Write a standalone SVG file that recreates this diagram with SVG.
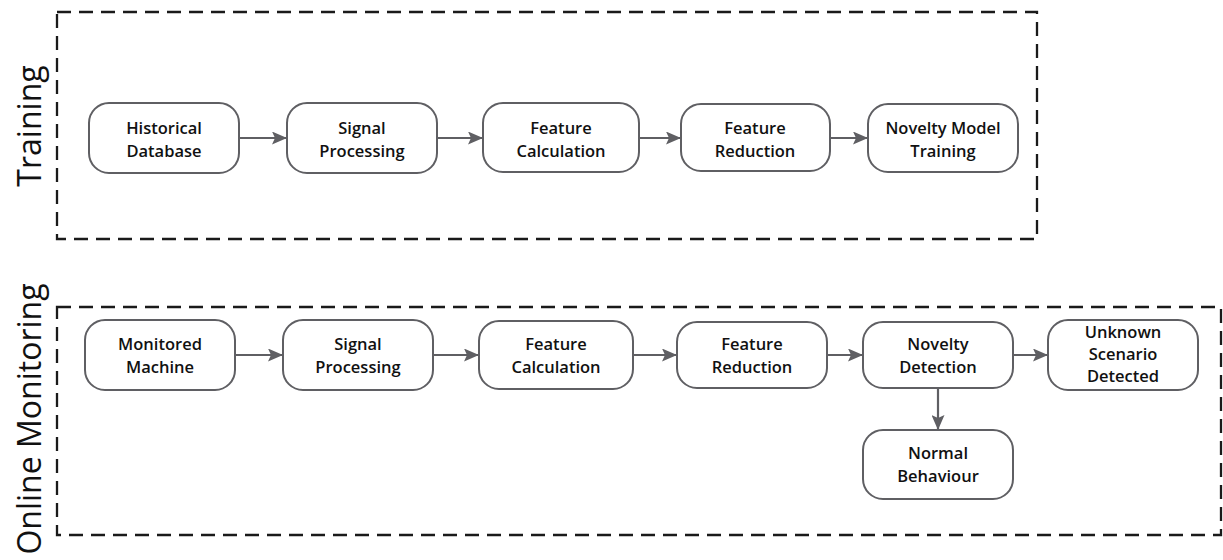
<svg xmlns="http://www.w3.org/2000/svg" width="1223" height="560" viewBox="0 0 1223 560">
  <style>
    .frame { fill: none; stroke: #1a1a1a; stroke-width: 2.3; stroke-dasharray: 14 8; }
    .box { fill: #ffffff; stroke: #5f5f63; stroke-width: 2; }
    .lbl { font-family: "Open Sans", "Liberation Sans", sans-serif; font-weight: 600; font-size: 16.5px; fill: #111; text-anchor: middle; }
    .side { font-family: "Open Sans", "Liberation Sans", sans-serif; font-size: 32px; fill: #111; text-anchor: middle; }
    .edge { stroke: #5f5f63; stroke-width: 2.2; fill: none; marker-end: url(#head); }
  </style>
  <defs>
    <marker id="head" viewBox="0 0 15 13" refX="15" refY="6.5" markerWidth="15" markerHeight="13" markerUnits="userSpaceOnUse" orient="auto">
      <path d="M0,0 L15,6.5 L0,13 L3,6.5 Z" fill="#5f5f63"/>
    </marker>
  </defs>
  <rect width="1223" height="560" fill="#ffffff"/>

  <!-- stage frames -->
  <g id="frames">
    <rect class="frame" x="57" y="12" width="980" height="227"/>
    <rect class="frame" x="57" y="307" width="1164" height="228"/>
    <text class="side" transform="translate(41,126) rotate(-90)">Training</text>
    <text class="side" transform="translate(41,419) rotate(-90)">Online Monitoring</text>
  </g>

  <!-- connectors -->
  <g id="connectors">
    <line class="edge" x1="239" y1="138" x2="287" y2="138"/>
    <line class="edge" x1="437" y1="138" x2="483" y2="138"/>
    <line class="edge" x1="639" y1="138" x2="681" y2="138"/>
    <line class="edge" x1="830" y1="138" x2="868" y2="138"/>

    <line class="edge" x1="235" y1="355" x2="283" y2="355"/>
    <line class="edge" x1="433" y1="355" x2="479" y2="355"/>
    <line class="edge" x1="633" y1="355" x2="677" y2="355"/>
    <line class="edge" x1="827" y1="355" x2="863" y2="355"/>
    <line class="edge" x1="1013" y1="355" x2="1048" y2="355"/>
    <line class="edge" x1="938" y1="388" x2="938" y2="430"/>
  </g>

  <!-- training pipeline -->
  <g id="historical-database">
    <rect class="box" x="89" y="103" width="150" height="70" rx="20"/>
    <text class="lbl" x="164" y="134">Historical</text>
    <text class="lbl" x="164" y="157">Database</text>
  </g>
  <g id="train-signal-processing">
    <rect class="box" x="287" y="103" width="150" height="70" rx="20"/>
    <text class="lbl" x="362" y="134">Signal</text>
    <text class="lbl" x="362" y="157">Processing</text>
  </g>
  <g id="train-feature-calculation">
    <rect class="box" x="483" y="103" width="156" height="69" rx="20"/>
    <text class="lbl" x="561" y="134">Feature</text>
    <text class="lbl" x="561" y="157">Calculation</text>
  </g>
  <g id="train-feature-reduction">
    <rect class="box" x="681" y="104" width="149" height="67" rx="20"/>
    <text class="lbl" x="755" y="134">Feature</text>
    <text class="lbl" x="755" y="157">Reduction</text>
  </g>
  <g id="novelty-model-training">
    <rect class="box" x="868" y="104" width="150" height="68" rx="20"/>
    <text class="lbl" x="943" y="134">Novelty Model</text>
    <text class="lbl" x="943" y="157">Training</text>
  </g>

  <!-- online pipeline -->
  <g id="monitored-machine">
    <rect class="box" x="85" y="320" width="150" height="70" rx="20"/>
    <text class="lbl" x="160" y="350">Monitored</text>
    <text class="lbl" x="160" y="373">Machine</text>
  </g>
  <g id="online-signal-processing">
    <rect class="box" x="283" y="320" width="150" height="70" rx="20"/>
    <text class="lbl" x="358" y="350">Signal</text>
    <text class="lbl" x="358" y="373">Processing</text>
  </g>
  <g id="online-feature-calculation">
    <rect class="box" x="479" y="321" width="154" height="68" rx="20"/>
    <text class="lbl" x="556" y="350">Feature</text>
    <text class="lbl" x="556" y="373">Calculation</text>
  </g>
  <g id="online-feature-reduction">
    <rect class="box" x="677" y="322" width="150" height="66" rx="20"/>
    <text class="lbl" x="752" y="350">Feature</text>
    <text class="lbl" x="752" y="373">Reduction</text>
  </g>
  <g id="novelty-detection">
    <rect class="box" x="863" y="322" width="150" height="66" rx="20"/>
    <text class="lbl" x="938" y="350">Novelty</text>
    <text class="lbl" x="938" y="373">Detection</text>
  </g>
  <g id="unknown-scenario">
    <rect class="box" x="1048" y="320" width="150" height="70" rx="20"/>
    <text class="lbl" x="1123" y="338">Unknown</text>
    <text class="lbl" x="1123" y="360">Scenario</text>
    <text class="lbl" x="1123" y="382">Detected</text>
  </g>
  <g id="normal-behaviour">
    <rect class="box" x="863" y="430" width="150" height="69" rx="20"/>
    <text class="lbl" x="938" y="459">Normal</text>
    <text class="lbl" x="938" y="482">Behaviour</text>
  </g>
</svg>
